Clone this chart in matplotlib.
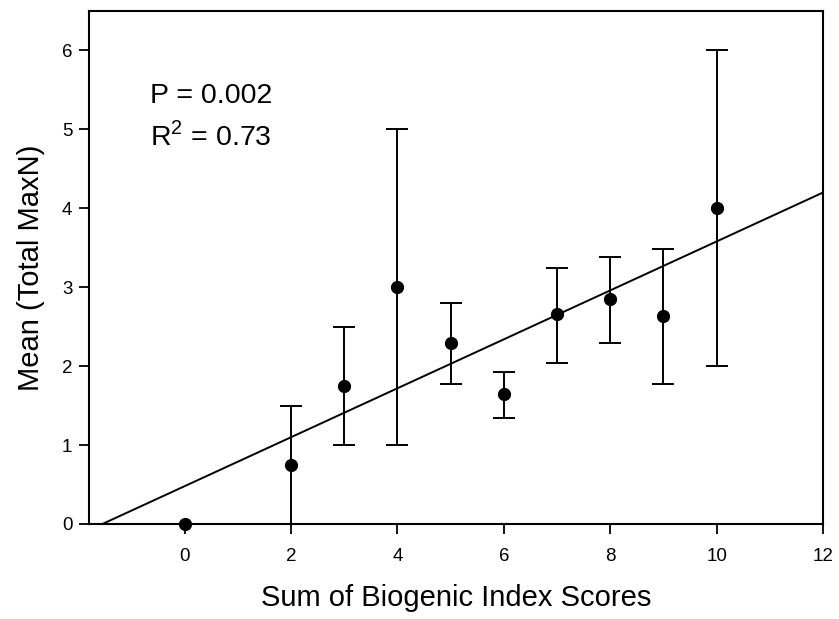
import matplotlib
matplotlib.use("Agg")
import matplotlib.pyplot as plt
import numpy as np

# Data
scores = [0, 2, 3, 4, 5, 6, 7, 8, 9, 10]
means = [0.0, 0.75, 1.75, 3.0, 2.29, 1.65, 2.66, 2.85, 2.64, 4.0]
lower = [0.0, 0.0, 1.0, 1.0, 1.77, 1.34, 2.04, 2.29, 1.77, 2.0]
upper = [0.0, 1.5, 2.5, 5.0, 2.8, 1.92, 3.24, 3.38, 3.49, 6.0]
fit_intercept = 0.48
fit_slope = 0.31
xticks = [0, 2, 4, 6, 8, 10, 12]
yticks = [0, 1, 2, 3, 4, 5, 6]

plt.rcParams['font.family'] = ['Liberation Sans', 'DejaVu Sans']

fig = plt.figure(figsize=(8.39, 6.19), dpi=100)
ax = fig.add_axes([89/839, 1-524/619, (823-89)/839, (524-11)/619])

means_a = np.array(means)
yerr = np.vstack([means_a - np.array(lower), np.array(upper) - means_a])
mask = (yerr.sum(axis=0) > 0)
ax.errorbar(np.array(scores)[mask], means_a[mask], yerr=yerr[:, mask], fmt='none',
            ecolor='black', elinewidth=1.4, capsize=8, capthick=1.4, zorder=2)
ax.plot(scores, means, 'o', color='black', markersize=8.5, zorder=3, clip_on=False)

x0 = -fit_intercept / fit_slope
xs = np.array([x0, 12])
ax.plot(xs, fit_intercept + fit_slope * xs, color='black', lw=1.4, zorder=2)

ax.set_xlim(-1.8, 12)
ax.set_ylim(0, 6.5)
ax.set_xticks(xticks)
ax.set_yticks(yticks)
ax.tick_params(direction='out', length=7, width=1.3, labelsize=13.5)
ax.tick_params(axis='x', pad=10)
ax.tick_params(axis='y', pad=5)
for s in ax.spines.values():
    s.set_linewidth(1.5)

ax.set_xlabel('Sum of Biogenic Index Scores', fontsize=21, labelpad=14)
ax.set_ylabel('Mean (Total MaxN)', fontsize=21, labelpad=12)

ax.text(0.0825, 0.835, 'P = 0.002', transform=ax.transAxes, fontsize=20.5, va='center')
ax.text(0.0825, 0.755, r'R$^{\mathregular{2}}$ = 0.73', transform=ax.transAxes, fontsize=20.5, va='center')

fig.savefig('out.png', dpi=100)
